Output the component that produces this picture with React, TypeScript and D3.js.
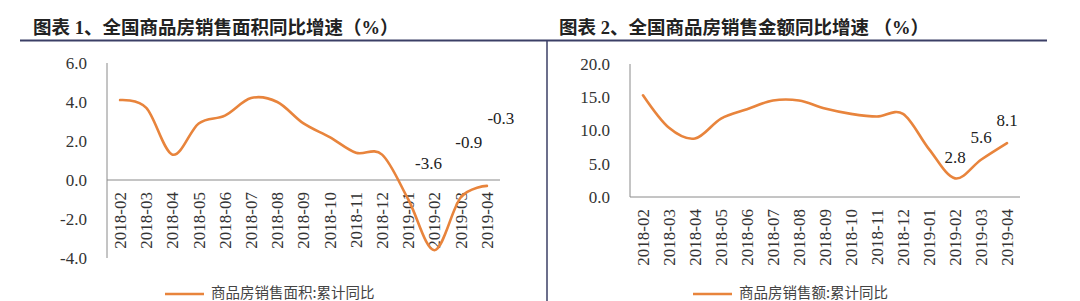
import React from "react";
import * as d3 from "d3";

// categories shared by both panels
const months = [
  "2018-02", "2018-03", "2018-04", "2018-05", "2018-06", "2018-07", "2018-08",
  "2018-09", "2018-10", "2018-11", "2018-12", "2019-01", "2019-02", "2019-03", "2019-04",
];

// 图表1: 商品房销售面积 累计同比 (%)
const areaValues = [4.1, 3.7, 1.3, 2.9, 3.3, 4.2, 4.0, 2.9, 2.2, 1.4, 1.3, -1.0, -3.6, -0.9, -0.3];
const areaTicks = [-4, -2, 0, 2, 4, 6];
const areaLabels = ["2019-02", "2019-03", "2019-04"];

// 图表2: 商品房销售额 累计同比 (%)
const amountValues = [15.3, 10.4, 8.8, 11.8, 13.2, 14.5, 14.5, 13.3, 12.5, 12.1, 12.5, 7.2, 2.8, 5.6, 8.1];
const amountTicks = [0, 5, 10, 15, 20];
const amountLabels = ["2019-02", "2019-03", "2019-04"];

const LINE = "#e8843c";
const AXIS = "#8a8a8a";
const SERIF = "'Liberation Serif', 'Times New Roman', 'DejaVu Serif', serif";
const TITLE_FONT = "'Liberation Serif', 'Noto Sans CJK SC', serif";
const CJK = "'Noto Sans CJK SC', sans-serif";

type PanelProps = {
  title: string;
  titleX: number;
  values: number[];
  ticks: number[];
  labels: string[];
  labelOffsets: [number, number][];
  legend: string;
  x0: number;
  x1: number;
  yTop: number;
  yBottom: number;
  legendX: number;
};

const serifText = { fontFamily: SERIF, fontSize: 17 };

const Panel = (p: PanelProps) => {
  const x = d3.scaleBand().domain(months).range([p.x0, p.x1]);
  const y = d3
    .scaleLinear()
    .domain([d3.min(p.ticks)!, d3.max(p.ticks)!])
    .range([p.yBottom, p.yTop]);
  const cx = (m: string) => x(m)! + x.bandwidth() / 2;
  const line = d3
    .line<number>()
    .x((_, i) => cx(months[i]))
    .y((d) => y(d))
    .curve(d3.curveCatmullRom.alpha(0));
  const zeroY = y(0);

  return (
    <g>
      <text
        x={p.titleX}
        y={34}
        style={{ fontFamily: TITLE_FONT, fontSize: 18.5, fontWeight: 700 }}
        fill="#222"
      >
        {p.title}
      </text>
      {/* y axis */}
      <line x1={p.x0} x2={p.x0} y1={p.yTop} y2={p.yBottom} stroke={AXIS} strokeWidth={1} />
      <line x1={p.x0} x2={p.x1} y1={zeroY} y2={zeroY} stroke={AXIS} strokeWidth={1} />
      {p.ticks.map((t) => (
        <text key={t} x={p.x0 - 20} y={y(t)} dy="0.35em" textAnchor="end" style={serifText} fill="#333">
          {t.toFixed(1)}
        </text>
      ))}
      {months.map((m) => (
        <text
          key={m}
          transform={`translate(${cx(m)},${zeroY + 12}) rotate(-90)`}
          dy="0.35em"
          textAnchor="end"
          style={serifText}
          fill="#333"
        >
          {m}
        </text>
      ))}
      <path d={line(p.values) || ""} fill="none" stroke={LINE} strokeWidth={2.6} strokeLinecap="round" />
      {p.labels.map((m, i) => {
        const v = p.values[months.indexOf(m)];
        return (
          <text
            key={m}
            x={cx(m) + p.labelOffsets[i][0]}
            y={y(v) + p.labelOffsets[i][1]}
            dy="0.35em"
            textAnchor="middle"
            style={serifText}
            fill="#222"
          >
            {v.toFixed(1)}
          </text>
        );
      })}
      {/* legend */}
      <line x1={p.legendX} x2={p.legendX + 39} y1={294} y2={294} stroke={LINE} strokeWidth={2.6} />
      <text x={p.legendX + 46} y={293} dy="0.35em" style={{ fontFamily: CJK, fontSize: 14.5 }} fill="#444">
        {p.legend}
      </text>
    </g>
  );
};

export default function App() {
  return (
    <svg
      width={1080}
      height={301}
      style={{ position: "absolute", left: 0, top: 0, background: "#fff" }}
    >
      <rect width={1080} height={301} fill="#fff" />
      <line x1={20} x2={1047} y1={40.5} y2={40.5} stroke="#3b3f66" strokeWidth={2} />
      <line x1={547} x2={547} y1={40} y2={301} stroke="#3b3f66" strokeWidth={1.5} />
      <Panel
        title="图表 1、全国商品房销售面积同比增速（%）"
        titleX={33}
        values={areaValues}
        ticks={areaTicks}
        labels={areaLabels}
        labelOffsets={[[-6, -87], [8, -56], [14, -68]]}
        legend="商品房销售面积:累计同比"
        x0={107}
        x1={500}
        yTop={63}
        yBottom={258}
        legendX={165}
      />
      <Panel
        title="图表 2、全国商品房销售金额同比增速 （%）"
        titleX={559}
        values={amountValues}
        ticks={amountTicks}
        labels={amountLabels}
        labelOffsets={[[0, -21], [0, -23], [0, -23]]}
        legend="商品房销售额:累计同比"
        x0={630}
        x1={1020}
        yTop={64}
        yBottom={197}
        legendX={693}
      />
    </svg>
  );
}
